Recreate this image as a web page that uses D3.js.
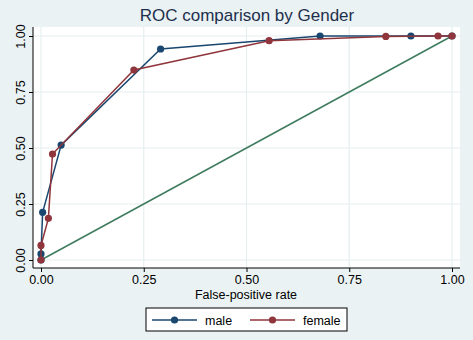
<!DOCTYPE html>
<html><head><meta charset="utf-8">
<script src="https://cdn.jsdelivr.net/npm/d3@7"></script>
<style>body{margin:0;background:#eaf2f3;}svg{display:block;}</style>
</head><body>
<script>
const maleFPR = [0, 0, 0.004, 0.049, 0.291, 0.679, 0.90, 1.0];
const maleTPR = [0, 0.027, 0.213, 0.513, 0.942, 1.0, 1.0, 1.0];
const femaleFPR = [0, 0, 0.018, 0.028, 0.226, 0.555, 0.839, 0.966, 1.0];
const femaleTPR = [0, 0.065, 0.186, 0.473, 0.848, 0.979, 0.998, 1.0, 1.0];
const refFPR = [0, 1];
const refTPR = [0, 1];
const ticks = [0, 0.25, 0.5, 0.75, 1];
const tickLabels = ["0.00", "0.25", "0.50", "0.75", "1.00"];
const seriesNames = ["male", "female"];
const colors = {male: "#1a476f", female: "#90353b", ref: "#3f7b5e"};

const W = 473, H = 340;
const svg = d3.select("body").append("svg").attr("width", W).attr("height", H);
svg.append("rect").attr("width", W).attr("height", H).attr("fill", "#eaf2f3");

const x = d3.scaleLinear().domain([0, 1]).range([41, 452]);
const y = d3.scaleLinear().domain([0, 1]).range([260, 36]);
const px0 = 33, px1 = 460, py0 = 27, py1 = 268;
const font = "'Liberation Sans', Arial, sans-serif";

svg.append("rect").attr("x", px0).attr("y", py0).attr("width", px1 - px0).attr("height", py1 - py0).attr("fill", "#fff");

// grid
svg.append("g").selectAll("line.h").data(ticks).join("line")
  .attr("x1", px0).attr("x2", px1).attr("y1", d => y(d)).attr("y2", d => y(d))
  .attr("stroke", "#e6eef0").attr("stroke-width", 1.2);
svg.append("g").selectAll("line.v").data(ticks).join("line")
  .attr("y1", py0).attr("y2", py1).attr("x1", d => x(d)).attr("x2", d => x(d))
  .attr("stroke", "#e6eef0").attr("stroke-width", 1.2);

// axes
const xAxis = d3.axisBottom(x).tickValues(ticks).tickFormat((d, i) => tickLabels[i]).tickSize(4).tickPadding(3);
const gx = svg.append("g").attr("transform", `translate(0,${py1})`).call(xAxis);
gx.select(".domain").remove();
gx.append("line").attr("x1", px0).attr("x2", px1).attr("stroke", "#000");
gx.selectAll(".tick line").attr("stroke", "#000");
gx.selectAll(".tick text").attr("font-family", font).attr("font-size", 12.5).attr("fill", "#000");

const yAxis = d3.axisLeft(y).tickValues(ticks).tickFormat((d, i) => tickLabels[i]).tickSize(4).tickPadding(3);
const gy = svg.append("g").attr("transform", `translate(${px0},0)`).call(yAxis);
gy.select(".domain").remove();
gy.append("line").attr("y1", py0).attr("y2", py1).attr("stroke", "#000");
gy.selectAll(".tick line").attr("stroke", "#000");
gy.selectAll(".tick text").attr("font-family", font).attr("font-size", 12.5).attr("fill", "#000")
  .attr("text-anchor", "middle").attr("x", 0).attr("dy", 0)
  .attr("transform", "translate(-12,0) rotate(-90)").attr("dominant-baseline", "central");

// title
svg.append("text").attr("x", 247).attr("y", 21).attr("text-anchor", "middle")
  .attr("font-family", font).attr("font-size", 17).attr("fill", "#1e2f4d").text("ROC comparison by Gender");
svg.append("text").attr("x", 246).attr("y", 299).attr("text-anchor", "middle")
  .attr("font-family", font).attr("font-size", 12.5).attr("fill", "#000").text("False-positive rate");

const line = d3.line().x(d => x(d[0])).y(d => y(d[1]));
function series(fpr, tpr, col) {
  const pts = fpr.map((f, i) => [f, tpr[i]]);
  svg.append("path").datum(pts).attr("d", line).attr("fill", "none").attr("stroke", col).attr("stroke-width", 1.5);
  svg.append("g").selectAll("circle").data(pts).join("circle")
    .attr("cx", d => x(d[0])).attr("cy", d => y(d[1])).attr("r", 3.6).attr("fill", col);
}
svg.append("path").datum(refFPR.map((f, i) => [f, refTPR[i]])).attr("d", line)
  .attr("stroke", colors.ref).attr("stroke-width", 1.5).attr("fill", "none");
series(maleFPR, maleTPR, colors.male);
series(femaleFPR, femaleTPR, colors.female);

// legend
const lg = svg.append("g");
lg.append("rect").attr("x", 146).attr("y", 308).attr("width", 201).attr("height", 23)
  .attr("fill", "#fff").attr("stroke", "#000").attr("stroke-width", 1);
const items = [{n: seriesNames[0], c: colors.male, x0: 152}, {n: seriesNames[1], c: colors.female, x0: 250}];
items.forEach(it => {
  lg.append("line").attr("x1", it.x0).attr("x2", it.x0 + 45).attr("y1", 320).attr("y2", 320).attr("stroke", it.c).attr("stroke-width", 1.5);
  lg.append("circle").attr("cx", it.x0 + 22.5).attr("cy", 320).attr("r", 3.6).attr("fill", it.c);
  lg.append("text").attr("x", it.x0 + 53).attr("y", 324.5).attr("font-family", font).attr("font-size", 12.5).attr("fill", "#000").text(it.n);
});
</script>
</body></html>
